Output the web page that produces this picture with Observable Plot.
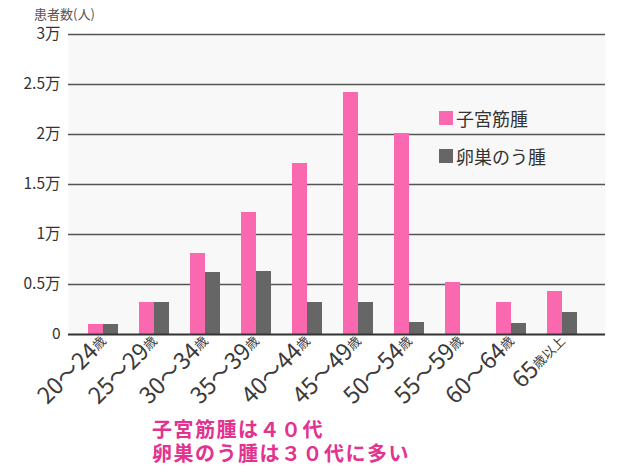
<!DOCTYPE html>
<html>
<head>
<meta charset="utf-8">
<script src="https://cdn.jsdelivr.net/npm/d3@7"></script>
<script src="https://cdn.jsdelivr.net/npm/@observablehq/plot@0.6"></script>
<style>
  body { margin: 0; background: #fff; font-family: "Noto Sans CJK JP", "Noto Sans", sans-serif; }
  #wrap { position: relative; width: 630px; height: 470px; }
  #ylab { position: absolute; left: 34px; top: 7px; font-size: 13px; line-height: 13px; color: #555; }
  .leg { position: absolute; left: 439px; font-size: 18px; color: #333; display: flex; align-items: center; }
  .sw { width: 14px; height: 14px; margin-right: 3px; }
  .cap { position: absolute; left: 152px; font-size: 20px; line-height: 20px; font-weight: bold; color: #e2338f; letter-spacing: 1.5px; white-space: nowrap; }
</style>
</head>
<body>
<div id="wrap">
  <div id="chart"></div>
  <div id="ylab">患者数(人)</div>
  <div class="leg" style="top:105px"><div class="sw" style="background:#fa68b0"></div>子宮筋腫</div>
  <div class="leg" style="top:143px"><div class="sw" style="background:#666666"></div>卵巣のう腫</div>
  <div class="cap" style="top:419px">子宮筋腫は４０代</div>
  <div class="cap" style="top:443px">卵巣のう腫は３０代に多い</div>
</div>
<script>
const ages = ["20～24歳","25～29歳","30～34歳","35～39歳","40～44歳","45～49歳","50～54歳","55～59歳","60～64歳","65歳以上"];
const uterine = [1000, 3200, 8100, 12200, 17100, 24200, 20100, 5200, 3200, 4300];
const ovarian = [1000, 3200, 6200, 6300, 3200, 3200, 1200, 0, 1100, 2200];
const yTicks = [0, 5000, 10000, 15000, 20000, 25000, 30000];
const yTickLabels = ["0", "0.5万", "1万", "1.5万", "2万", "2.5万", "3万"];

const data = ages.map((a, i) => ({age: a, uterine: uterine[i], ovarian: ovarian[i]}));

const chart = Plot.plot({
  width: 630,
  height: 415,
  marginTop: 34,
  marginBottom: 81,
  marginLeft: 68,
  marginRight: 25,
  style: {fontFamily: '"Noto Sans CJK JP", "Noto Sans", sans-serif', background: "transparent"},
  x: {domain: ages, paddingInner: 0.412, paddingOuter: 0.47, align: 0.42, label: null},
  y: {domain: [0, 30000], label: null},
  marks: [
    Plot.frame({fill: "#f8f8f8", stroke: null}),
    Plot.ruleY(yTicks.filter(d => d > 0), {stroke: "#555", strokeWidth: 1.3}),
    Plot.barY(data, {x: "age", y: "uterine", fill: "#fa68b0", insetRight: 15}),
    Plot.barY(data, {x: "age", y: "ovarian", fill: "#666666", insetLeft: 15}),
    Plot.ruleY([0], {stroke: "#333", strokeWidth: 2}),
    Plot.axisY({ticks: yTicks, tickFormat: d => yTickLabels[yTicks.indexOf(d)], tickSize: 0, tickPadding: 8, fontSize: 15.5, fill: "#333"}),
    Plot.axisX({tickRotate: -45, tickSize: 0, tickPadding: 4, fontSize: 23, fill: "#3a3a3a"})
  ]
});
document.getElementById("chart").appendChild(chart);

// shrink the 歳 / 歳以上 suffix in x tick labels
d3.select(chart).selectAll('g[aria-label="x-axis tick label"] text').each(function() {
  const t = d3.select(this);
  const s = t.text();
  const m = s.match(/^(.*?)(歳.*)$/);
  if (!m) return;
  t.text(null);
  t.append("tspan").text(m[1]);
  t.append("tspan").attr("font-size", 13).attr("dy", "-0.2em").text(m[2]);
});
</script>
</body>
</html>
